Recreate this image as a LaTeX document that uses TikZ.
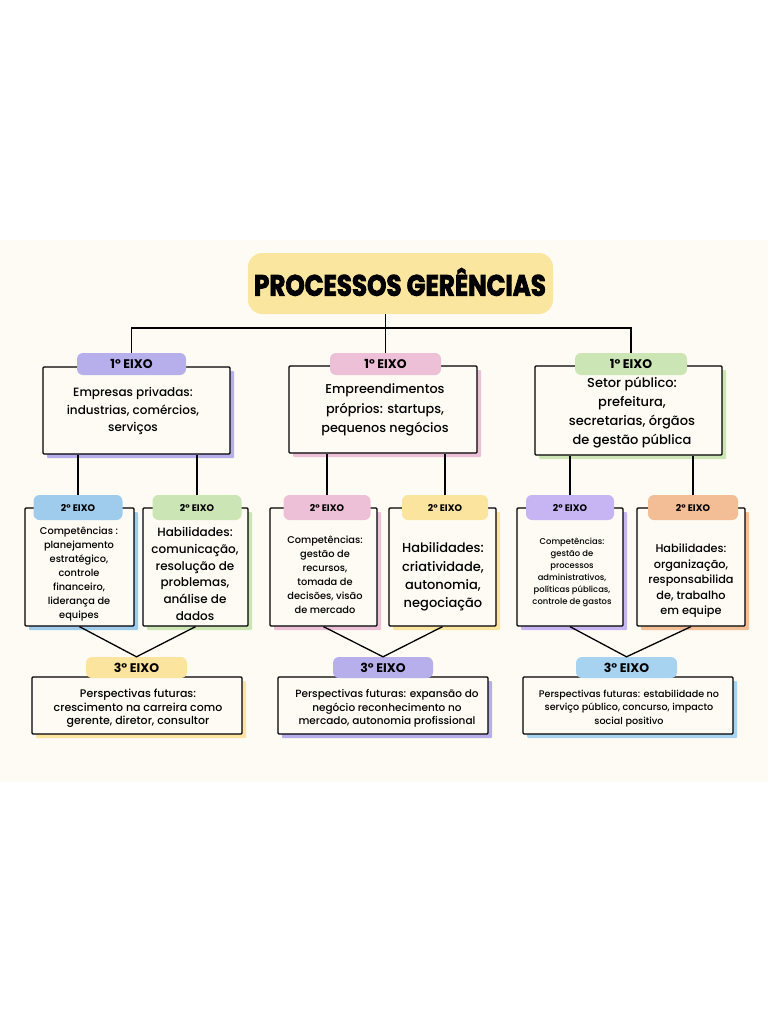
\documentclass[tikz,border=0pt]{standalone}
\usepackage{fontspec}
\setmainfont{Poppins}[UprightFont={* Medium}, BoldFont={* Bold}]
\newfontfamily\titlefont{Poppins}[BoldFeatures={FakeBold=3}]
\usetikzlibrary{shadows}
\definecolor{paper}{HTML}{FDFBF4}
\definecolor{titley}{HTML}{FBE6A0}
\definecolor{cpurple}{HTML}{B7AFEB}
\definecolor{cpink}{HTML}{EEC0D7}
\definecolor{cgreen}{HTML}{CCE5B5}
\definecolor{cblue}{HTML}{9FCCEC}
\definecolor{cyellow}{HTML}{FBE49E}
\definecolor{corange}{HTML}{F3BD96}
\definecolor{clav}{HTML}{C7B5F3}
\definecolor{cblue3}{HTML}{A7D3F0}
\tikzset{
  ebox/.style={draw=black, line width=1.3pt, fill=paper, rounded corners=1pt, inner sep=0pt,
    drop shadow={shadow xshift=4pt, shadow yshift=-4pt, fill=#1, opacity=1}},
  etag/.style={fill=#1, rounded corners=6pt, inner sep=0pt, text=black},
  txt/.style={align=center, inner sep=0pt, text=black},
  conn/.style={draw=black, line width=1.3pt},
  tagA/.style={font=\bfseries\fontsize{12.5}{12.5}\selectfont},
  tagB/.style={font=\bfseries\fontsize{9.5}{9.5}\selectfont},
}
\begin{document}
\begin{tikzpicture}[x=1pt,y=-1pt]
\useasboundingbox (0,0) rectangle (768,1024);
\fill[white] (0,0) rectangle (768,1024);
\fill[paper] (0,240) rectangle (768,782);

% title
\node[fill=titley, rounded corners=14pt, minimum width=305pt, minimum height=61pt, inner sep=0pt] (title) at (400.5,283.5) {};
\node[txt] (titletext) at (400,282) {\titlefont\bfseries\fontsize{24.6}{25}\selectfont\scalebox{1}[1.2]{PROCESSOS GERÊNCIAS}};

% level 1 boxes
\node[ebox=cpurple, minimum width=187pt, minimum height=87pt] (B1a) at (136.5,410.5) {};
\node[ebox=cpink, minimum width=188pt, minimum height=87pt] (B1b) at (383,409.5) {};
\node[ebox=cgreen, minimum width=187pt, minimum height=89pt] (B1c) at (628.5,410.5) {};
\node[txt, font=\fontsize{12}{17.5}\selectfont] (B1at) at (133,411) {Empresas privadas:\\industrias, comércios,\\serviços};
\node[txt, font=\fontsize{12.8}{19.5}\selectfont] (B1bt) at (385,410) {Empreendimentos\\próprios: startups,\\pequenos negócios};
\node[txt, font=\fontsize{13}{19}\selectfont] (B1ct) at (632,413) {Setor público:\\prefeitura,\\secretarias, órgãos\\de gestão pública};

% level 1 tags
\node[etag=cpurple, minimum width=109pt, minimum height=22pt, tagA] (T1a) at (131.5,364) {1° EIXO};
\node[etag=cpink, minimum width=111pt, minimum height=22pt, tagA] (T1b) at (385.5,364) {1° EIXO};
\node[etag=cgreen, minimum width=112pt, minimum height=22pt, tagA] (T1c) at (631,364) {1° EIXO};

% title connectors
\coordinate (J) at (385.5,328);
\draw[conn] (title.south -| J) -- (J);
\draw[conn] (T1a.north) |- (J) -| (T1c.north);
\draw[conn] (J) -- (T1b.north);

% level 2 boxes
\node[ebox=cblue, minimum width=109pt, minimum height=118pt] (B2a) at (79.5,567) {};
\node[ebox=cgreen, minimum width=105pt, minimum height=118pt] (B2b) at (195.5,567) {};
\node[ebox=cpink, minimum width=107pt, minimum height=118pt] (B2c) at (323.5,567) {};
\node[ebox=cyellow, minimum width=107pt, minimum height=118pt] (B2d) at (442.5,567) {};
\node[ebox=clav, minimum width=106pt, minimum height=118pt] (B2e) at (570,567) {};
\node[ebox=corange, minimum width=108pt, minimum height=118pt] (B2f) at (691,567) {};

\node[txt, font=\fontsize{9.8}{14}\selectfont] (B2at) at (79,574) {Competências :\\planejamento\\estratégico,\\controle\\financeiro,\\liderança de\\equipes};
\node[txt, font=\fontsize{12}{16.8}\selectfont] (B2bt) at (195,574) {Habilidades:\\comunicação,\\resolução de\\problemas,\\análise de\\dados};
\node[txt, font=\fontsize{9.8}{14}\selectfont] (B2ct) at (325,575) {Competências:\\gestão de\\recursos,\\tomada de\\decisões, visão\\de mercado};
\node[txt, font=\fontsize{13}{18.3}\selectfont] (B2dt) at (443,577) {Habilidades:\\criatividade,\\autonomia,\\negociação};
\node[txt, font=\fontsize{8.4}{12}\selectfont] (B2et) at (572,572) {Competências:\\gestão de\\processos\\administrativos,\\políticas públicas,\\controle de gastos};
\node[txt, font=\fontsize{11.3}{15.5}\selectfont] (B2ft) at (691,581) {Habilidades:\\organização,\\responsabilida\\de, trabalho\\em equipe};

% level 2 tags
\node[etag=cblue, minimum width=89pt, minimum height=25pt, tagB] (T2a) at (78,507.5) {2° EIXO};
\node[etag=cgreen, minimum width=89pt, minimum height=25pt, tagB] (T2b) at (197,507.5) {2° EIXO};
\node[etag=cpink, minimum width=87pt, minimum height=25pt, tagB] (T2c) at (327,507.5) {2° EIXO};
\node[etag=cyellow, minimum width=86pt, minimum height=25pt, tagB] (T2d) at (445,507.5) {2° EIXO};
\node[etag=clav, minimum width=88pt, minimum height=25pt, tagB] (T2e) at (570,507.5) {2° EIXO};
\node[etag=corange, minimum width=90pt, minimum height=25pt, tagB] (T2f) at (693,507.5) {2° EIXO};

\draw[conn] (T2a.north) -- (T2a.north |- B1a.south);
\draw[conn] (T2b.north) -- (T2b.north |- B1a.south);
\draw[conn] (T2c.north) -- (T2c.north |- B1b.south);
\draw[conn] (T2d.north) -- (T2d.north |- B1b.south);
\draw[conn] (T2e.north) -- (T2e.north |- B1c.south);
\draw[conn] (T2f.north) -- (T2f.north |- B1c.south);

% level 3 boxes
\node[ebox=cyellow, minimum width=210pt, minimum height=57pt] (B3a) at (137,705.5) {};
\node[ebox=cpurple, minimum width=210pt, minimum height=57pt] (B3b) at (383,705.5) {};
\node[ebox=cblue3, minimum width=210pt, minimum height=57pt] (B3c) at (628,705.5) {};
\node[txt, font=\fontsize{11}{13.6}\selectfont] (B3at) at (138,708.5) {Perspectivas futuras:\\crescimento na carreira como\\gerente, diretor, consultor};
\node[txt, font=\fontsize{10.5}{13.6}\selectfont] (B3bt) at (387,708.5) {Perspectivas futuras: expansão do\\negócio reconhecimento no\\mercado, autonomia profissional};
\node[txt, font=\fontsize{9.6}{13.6}\selectfont] (B3ct) at (629,708.5) {Perspectivas futuras: estabilidade no\\serviço público, concurso, impacto\\social positivo};

% level 3 tags
\node[etag=cyellow, minimum width=101pt, minimum height=21pt, tagA] (T3a) at (136.5,667.5) {3° EIXO};
\node[etag=cpurple, minimum width=100pt, minimum height=21pt, tagA] (T3b) at (383,667.5) {3° EIXO};
\node[etag=cblue3, minimum width=101pt, minimum height=21pt, tagA] (T3c) at (626.5,667.5) {3° EIXO};

\draw[conn] (B2a.south) -- (T3a.north) -- (B2b.south);
\draw[conn] (B2c.south) -- (T3b.north) -- (B2d.south);
\draw[conn] (B2e.south) -- (T3c.north) -- (B2f.south);
\end{tikzpicture}
\end{document}
